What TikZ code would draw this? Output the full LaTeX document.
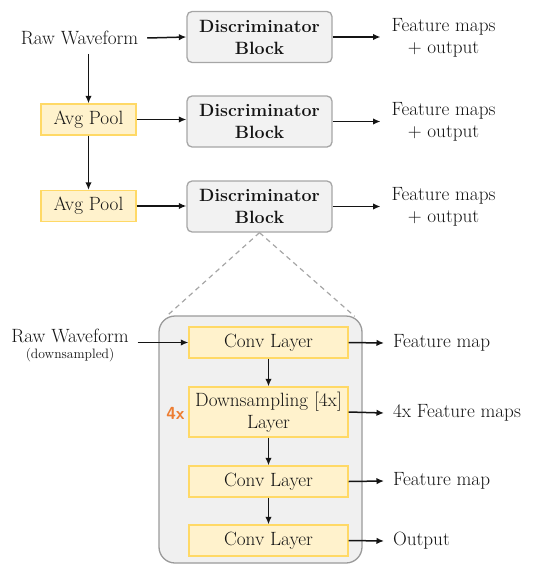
\documentclass[tikz,border=0pt]{standalone}
\usetikzlibrary{arrows.meta,calc}
\definecolor{yfill}{HTML}{FFF2CC}
\definecolor{ydraw}{HTML}{FFD966}
\definecolor{gfill}{HTML}{F2F2F2}
\definecolor{gdraw}{HTML}{A6A6A6}
\definecolor{bfill}{HTML}{F0F0F0}
\definecolor{bdraw}{HTML}{9A9A9A}
\definecolor{orng}{HTML}{ED7D31}
\definecolor{txt}{HTML}{141414}
\begin{document}
\begin{tikzpicture}[x=1pt,y=-1pt,
  every node/.style={font=\fontsize{19.2}{22}\selectfont, text=txt},
  disc/.style={draw=gdraw, fill=gfill, line width=1.3pt, rounded corners=5pt,
    minimum width=145pt, minimum height=51pt, align=center, inner sep=0pt,
    font=\fontsize{17.8}{22}\selectfont\bfseries},
  pool/.style={draw=ydraw, fill=yfill, line width=1.3pt,
    minimum width=95pt, minimum height=31pt, inner sep=0pt},
  layer/.style={draw=ydraw, fill=yfill, line width=1.3pt,
    minimum width=159pt, minimum height=31pt, inner sep=0pt, align=center},
  rlab/.style={inner sep=0pt, outer sep=11pt, align=center},
  llab/.style={inner sep=0pt, outer sep=9pt},
  arr/.style={-{Latex[length=7.5pt,width=6.5pt]}, line width=1.5pt, draw=txt},
  zoomdash/.style={dashed, draw=gdraw, line width=1.2pt, dash pattern=on 5pt off 4pt}
]
\useasboundingbox (0,0) rectangle (540,565);

% top section
\node[llab] (raw) at (79.5,38) {Raw Waveform};
\node[disc] (d1) at (259.5,37) {Discriminator\\Block};
\node[rlab] (f1) at (443.5,38) {Feature maps\\+ output};
\node[pool] (p1) at (88.5,119.5) {Avg Pool};
\node[disc] (d2) at (259.5,121.5) {Discriminator\\Block};
\node[rlab] (f2) at (443.5,122) {Feature maps\\+ output};
\node[pool] (p2) at (88.5,206) {Avg Pool};
\node[disc] (d3) at (259.5,206.5) {Discriminator\\Block};
\node[rlab] (f3) at (443.5,207) {Feature maps\\+ output};

\draw[arr] (raw.east) -- (d1.west);
\draw[arr] (d1.east) -- (d1.east -| f1.west);
\draw[arr] (raw.south -| p1.north) -- (p1.north);
\draw[arr] (p1.east) -- (p1.east -| d2.west);
\draw[arr] (d2.east) -- (d2.east -| f2.west);
\draw[arr] (p1.south) -- (p2.north);
\draw[arr] (p2.east) -- (p2.east -| d3.west);
\draw[arr] (d3.east) -- (d3.east -| f3.west);

% zoomed block
\node[draw=bdraw, fill=bfill, line width=1.3pt, rounded corners=16pt,
  minimum width=203pt, minimum height=247pt, inner sep=0pt] (big) at (260.5,439.5) {};
\coordinate (zl) at ($(big.north west)+(8,1)$);
\coordinate (zr) at ($(big.north east)+(-8,1)$);
\draw[zoomdash] (d3.south) -- (zl);
\draw[zoomdash] (d3.south) -- (zr);

\node[layer] (c1) at (268.5,342.5) {Conv Layer};
\node[layer, minimum height=50pt] (ds) at (268.5,412) {Downsampling [4x]\\Layer};
\node[layer] (c2) at (268.5,481.5) {Conv Layer};
\node[layer] (c3) at (268.5,540.5) {Conv Layer};

\node[llab] (rw2) at (70,336) {Raw Waveform};
\node[font=\fontsize{13.6}{15}\selectfont] (dsn) at (70,355) {(downsampled)};
\node[text=orng, font=\fontsize{17.5}{21}\selectfont\sffamily\bfseries] (fx) at (175.5,413) {4x};

\draw[arr] (c1.west -| rw2.east) -- (c1.west);
\draw[arr] (c1.south) -- (ds.north);
\draw[arr] (ds.south) -- (c2.north);
\draw[arr] (c2.south) -- (c3.north);

\node[rlab, anchor=west, outer sep=0pt] (o1) at (393,343) {Feature map};
\node[rlab, anchor=west, outer sep=0pt] (o2) at (393,413) {4x Feature maps};
\node[rlab, anchor=west, outer sep=0pt] (o3) at (393,481) {Feature map};
\node[rlab, anchor=west, outer sep=0pt] (o4) at (393,541) {Output};
\coordinate (e1) at ($(o1.west)+(-9,0)$);
\coordinate (e2) at ($(o2.west)+(-9,0)$);
\coordinate (e3) at ($(o3.west)+(-9,0)$);
\coordinate (e4) at ($(o4.west)+(-9,0)$);
\draw[arr] (c1.east) -- (e1);
\draw[arr] (ds.east) -- (e2);
\draw[arr] (c2.east) -- (e3);
\draw[arr] (c3.east) -- (e4);
\end{tikzpicture}
\end{document}
